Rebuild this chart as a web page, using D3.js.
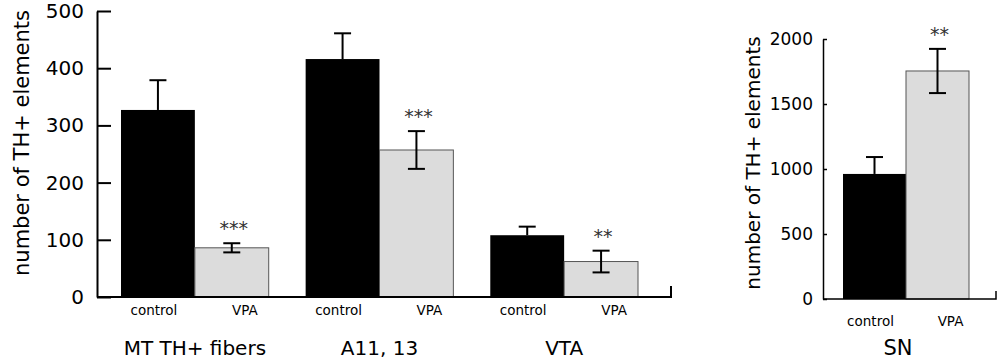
<!DOCTYPE html>
<html><head><meta charset="utf-8">
<script src="https://cdn.jsdelivr.net/npm/d3@7"></script>
<style>
body{margin:0;background:#fff;}
text{font-family:"DejaVu Sans",sans-serif;fill:#000;}
</style></head>
<body><svg id="c" width="1000" height="362"></svg>
<script>
// ---- data ----
const regions = ["MT TH+ fibers", "A11, 13", "VTA"];
const conditions = ["control", "VPA"];
const controlMean = [327, 416, 108];
const controlErr = [52, 45, 15];
const vpaMean = [86, 257, 62];
const vpaErr = [8, 33, 19];
const vpaSig = ["***", "***", "**"];
const leftTicks = [0, 100, 200, 300, 400, 500];

const snRegion = ["SN"];
const snMean = [962, 1754];
const snErr = [130, 170];
const snSig = ["", "**"];
const rightTicks = [0, 500, 1000, 1500, 2000];

const yLabel = "number of TH+ elements";

const svg = d3.select("#c");
const fillFor = c => c === "control" ? "#000" : "#dcdcdc";
const labelOffset = {control: -4, VPA: 13};

function drawBars(g, x0, x1, y, rows, labelDy) {
  rows.forEach(r => {
    const xs = x0(r.region) + x1(r.cond);
    const w = x1.bandwidth();
    g.append("rect").attr("x", xs).attr("y", y(r.mean)).attr("width", w)
      .attr("height", y(0) - y(r.mean)).attr("fill", fillFor(r.cond))
      .attr("stroke", r.cond === "control" ? "none" : "#555").attr("stroke-width", 1);
    const cx = xs + w / 2;
    const lo = r.cond === "control" ? r.mean : r.mean - r.err;
    const hi = r.mean + r.err;
    g.append("line").attr("x1", cx).attr("x2", cx).attr("y1", y(lo)).attr("y2", y(hi))
      .attr("stroke", "#000").attr("stroke-width", 2);
    g.append("line").attr("x1", cx - 8.5).attr("x2", cx + 8.5).attr("y1", y(hi)).attr("y2", y(hi))
      .attr("stroke", "#000").attr("stroke-width", 2);
    if (r.cond !== "control") {
      g.append("line").attr("x1", cx - 8.5).attr("x2", cx + 8.5).attr("y1", y(lo)).attr("y2", y(lo))
        .attr("stroke", "#000").attr("stroke-width", 2);
    }
    if (r.sig) {
      g.append("text").attr("x", cx + 2).attr("y", y(hi) - 8).attr("text-anchor", "middle")
        .style("font-size", "19px").style("fill", "#333").text(r.sig);
    }
    g.append("text").attr("x", cx + labelOffset[r.cond]).attr("y", y(0) + labelDy)
      .attr("text-anchor", "middle").style("font-size", "13.5px").text(r.cond);
  });
}

// ---- left panel ----
{
  const y = d3.scaleLinear().domain([0, 500]).range([297, 11]);
  const x0 = d3.scaleBand().domain(regions).range([121, 638]).paddingInner(0.2).paddingOuter(0);
  const x1 = d3.scaleBand().domain(conditions).range([0, x0.bandwidth()]).padding(0);
  const g = svg.append("g");
  const rows = [];
  regions.forEach((reg, i) => {
    rows.push({region: reg, cond: "control", mean: controlMean[i], err: controlErr[i], sig: ""});
    rows.push({region: reg, cond: "VPA", mean: vpaMean[i], err: vpaErr[i], sig: vpaSig[i]});
  });
  drawBars(g, x0, x1, y, rows, 18);
  const ax = g.append("g").attr("transform", "translate(97,0)")
    .call(d3.axisLeft(y).tickValues(leftTicks).tickFormat(d3.format("d"))
      .tickSize(-14).tickSizeOuter(0).tickPadding(13));
  ax.selectAll("path,line").attr("stroke", "#000").attr("stroke-width", 2);
  ax.selectAll("text").style("font-size", "20px").style("font-family", "DejaVu Sans");
  g.append("path").attr("d", d3.line()([[97, y(0)], [671, y(0)], [671, y(0) - 11]]))
    .attr("fill", "none").attr("stroke", "#000").attr("stroke-width", 2);
  regions.forEach(reg => {
    g.append("text").attr("x", x0(reg) + x0.bandwidth() / 2).attr("y", 355)
      .attr("text-anchor", "middle").style("font-size", "20px").text(reg);
  });
  g.append("text").attr("transform", "rotate(-90)").attr("x", -143).attr("y", 29)
    .attr("text-anchor", "middle").style("font-size", "21px").text(yLabel);
}

// ---- right panel ----
{
  const y = d3.scaleLinear().domain([0, 2000]).range([299, 39]);
  const x0 = d3.scaleBand().domain(snRegion).range([843, 969]);
  const x1 = d3.scaleBand().domain(conditions).range([0, x0.bandwidth()]).padding(0);
  const g = svg.append("g");
  const rows = conditions.map((c, i) => ({region: "SN", cond: c, mean: snMean[i], err: snErr[i], sig: snSig[i]}));
  drawBars(g, x0, x1, y, rows, 27);
  const ax = g.append("g").attr("transform", "translate(823,0)")
    .call(d3.axisLeft(y).tickValues(rightTicks).tickFormat(d3.format("d"))
      .tickSize(-4).tickSizeOuter(0).tickPadding(10));
  ax.selectAll("path,line").attr("stroke", "#000").attr("stroke-width", 1.5);
  ax.selectAll("text").style("font-size", "17px").style("font-family", "DejaVu Sans");
  g.append("path").attr("d", d3.line()([[823, y(0)], [996, y(0)], [996, y(0) - 8]]))
    .attr("fill", "none").attr("stroke", "#000").attr("stroke-width", 1.5);
  g.append("text").attr("x", x0("SN") + x0.bandwidth() / 2 - 8).attr("y", 355)
    .attr("text-anchor", "middle").style("font-size", "21px").text("SN");
  g.append("text").attr("transform", "rotate(-90)").attr("x", -163).attr("y", 760)
    .attr("text-anchor", "middle").style("font-size", "20px").text(yLabel);
}
</script></body></html>
